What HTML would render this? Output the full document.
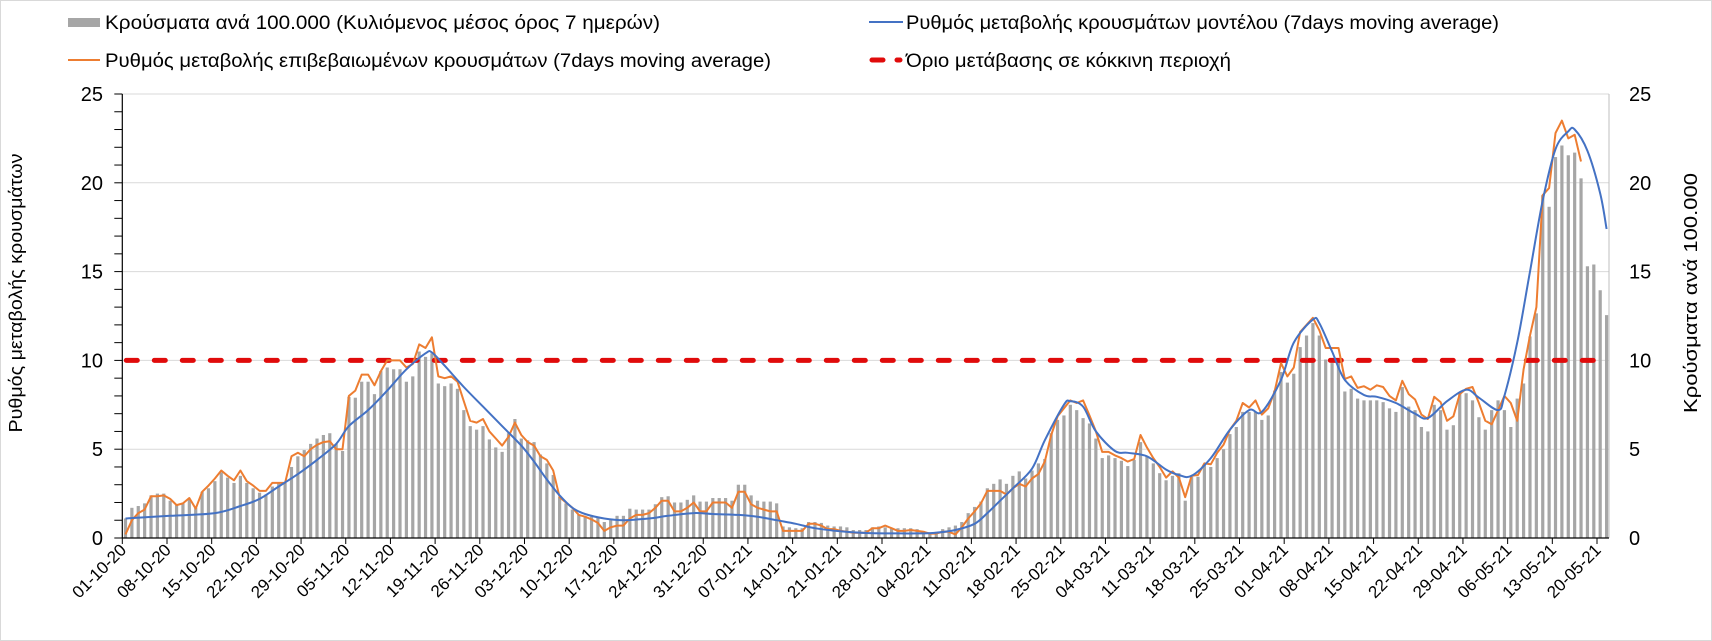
<!DOCTYPE html>
<html><head><meta charset="utf-8"><style>
html,body{margin:0;padding:0;background:#fff;}
svg{display:block;font-family:"Liberation Sans",Arial,sans-serif;}
</style></head><body>
<svg id="chart" xmlns="http://www.w3.org/2000/svg" width="1712" height="641" viewBox="0 0 1712 641">
<rect x="0.5" y="0.5" width="1711" height="640" fill="#fff" stroke="#d9d9d9"/>
<g id="grid"></g>
<g id="bars"></g>
<g id="axes"></g>
<g id="lines"></g>
<g id="labels"></g>
<text transform="translate(22,293) rotate(-90)" text-anchor="middle" font-size="18" fill="#000" textLength="279" lengthAdjust="spacingAndGlyphs">Ρυθμός μεταβολής κρουσμάτων</text>
<text transform="translate(1697,293) rotate(-90)" text-anchor="middle" font-size="18" fill="#000" textLength="240" lengthAdjust="spacingAndGlyphs">Κρούσματα ανά 100.000</text>
<g>
  <g>
    <rect x="68" y="18" width="32" height="9" fill="#a6a6a6"/>
    <text x="105" y="29" font-size="19" textLength="555" lengthAdjust="spacingAndGlyphs">Κρούσματα ανά 100.000 (Κυλιόμενος μέσος όρος 7 ημερών)</text>
  </g>
  <g>
    <line x1="68" y1="60" x2="100" y2="60" stroke="#ed7d31" stroke-width="2"/>
    <text x="105" y="67" font-size="19" textLength="666" lengthAdjust="spacingAndGlyphs">Ρυθμός μεταβολής επιβεβαιωμένων κρουσμάτων (7days moving average)</text>
  </g>
  <g>
    <line x1="869" y1="22" x2="903" y2="22" stroke="#4472c4" stroke-width="2"/>
    <text x="906" y="29" font-size="19" textLength="593" lengthAdjust="spacingAndGlyphs">Ρυθμός μεταβολής κρουσμάτων μοντέλου (7days moving average)</text>
  </g>
  <g>
    <line x1="872" y1="60" x2="900" y2="60" stroke="#e00b0b" stroke-width="5" stroke-linecap="round" stroke-dasharray="11 14"/>
    <text x="906" y="67" font-size="19" textLength="325" lengthAdjust="spacingAndGlyphs">Όριο μετάβασης σε κόκκινη περιοχή</text>
  </g>
</g>
</svg>
<script>
const bars = [1.1,1.7,1.8,1.95,2.4,2.5,2.5,2.1,1.85,1.95,2.2,1.7,2.6,2.8,3.2,3.7,3.4,3.1,3.5,3.1,2.8,2.55,2.45,2.9,3.1,3.1,4.0,4.6,4.95,5.3,5.6,5.8,5.9,5.3,4.9,7.95,7.9,8.8,8.8,8.1,9.4,9.6,9.5,9.5,8.8,9.1,10.5,10.2,10.4,8.7,8.55,8.7,8.4,7.2,6.3,6.1,6.3,5.55,5.1,4.85,5.9,6.7,5.6,5.5,5.4,4.7,4.2,
3.55,2.3,1.95,1.6,1.3,1.2,1.2,1.2,0.9,1.0,1.25,1.25,1.65,1.6,1.6,1.6,1.9,2.3,2.35,2.0,2.0,2.15,2.4,2.05,2.05,2.25,2.25,2.25,2.1,3.0,3.0,2.4,2.1,2.05,2.05,1.95,0.65,0.6,0.55,0.55,0.9,0.9,0.85,0.7,0.65,0.65,0.6,0.45,0.45,0.45,0.6,0.65,0.6,0.55,0.55,0.55,0.55,0.5,0.4,0.3,0.35,0.5,0.6,0.7,0.9,1.4,1.75,
2.05,2.8,3.05,3.3,3.05,3.5,3.75,3.35,3.8,4.2,4.45,5.9,6.65,6.9,7.5,7.2,6.75,6.45,5.6,4.5,4.65,4.5,4.35,4.05,4.4,5.4,4.6,4.2,3.65,3.25,3.5,3.65,2.1,3.45,3.45,4.1,4.0,4.5,5.0,5.85,6.25,7.1,7.1,7.1,6.65,6.9,8.3,9.35,8.75,9.25,10.75,11.4,12.1,11.4,10.05,9.85,10.0,8.25,8.4,7.85,7.75,7.75,7.75,7.65,7.3,7.1,8.5,7.4,7.2,6.25,6.0,7.5,7.2,6.1,6.35,8.15,8.15,7.75,6.8,
6.1,7.2,7.75,7.2,6.25,7.85,8.7,11.35,12.65,19.3,18.65,21.45,22.1,21.55,21.7,20.25,15.3,15.4,13.95,12.55];
const confirmedRate = [0.2,1.0,1.4,1.6,2.35,2.35,2.4,2.2,1.85,1.95,2.25,1.65,2.6,2.95,3.35,3.8,3.5,3.25,3.8,3.2,2.95,2.65,2.65,3.1,3.1,3.1,4.6,4.8,4.6,5.0,5.25,5.4,5.45,5.0,5.0,8.0,8.3,9.2,9.2,8.6,9.4,10.0,10.0,10.0,9.6,9.8,10.9,10.7,11.3,9.1,9.0,9.1,8.8,7.7,6.6,6.5,6.7,6.0,5.6,5.2,5.7,6.5,5.8,5.4,5.2,4.6,4.4,
3.8,2.3,2.0,1.7,1.3,1.2,1.05,0.85,0.4,0.6,0.7,0.7,1.1,1.3,1.3,1.4,1.7,2.1,2.1,1.5,1.5,1.7,2.0,1.5,1.5,2.0,2.0,2.0,1.7,2.6,2.6,1.9,1.7,1.6,1.5,1.5,0.4,0.4,0.4,0.4,0.8,0.8,0.7,0.5,0.5,0.4,0.35,0.3,0.3,0.3,0.55,0.55,0.7,0.55,0.4,0.4,0.45,0.4,0.35,0.25,0.25,0.35,0.35,0.2,0.6,1.1,1.5,
1.95,2.65,2.65,2.65,2.45,2.8,3.05,2.9,3.35,3.6,4.3,5.8,6.85,7.3,7.75,7.6,7.75,6.9,6.0,4.85,4.85,4.65,4.5,4.3,4.45,5.8,5.1,4.5,4.0,3.4,3.75,3.4,2.3,3.5,3.55,4.2,4.15,4.8,5.25,6.1,6.6,7.6,7.35,7.75,6.95,7.3,8.25,9.85,9.1,9.6,11.6,12.0,12.4,11.7,10.7,10.7,10.7,8.95,9.1,8.45,8.55,8.35,8.6,8.5,8.0,7.75,8.85,8.1,7.8,6.95,6.7,7.95,7.65,6.6,6.85,8.1,8.4,8.5,7.6,
6.6,6.4,7.2,8.0,7.6,6.6,9.5,11.4,13.0,19.3,19.7,22.8,23.5,22.5,22.7,21.2];
const modelDays = [0,7,14,18,21,24,27,30,33,35,38,41,44,47,48,50,53,56,59,62,64,66,68,70,72,75,78,82,85,89,92,96,99,102,105,108,112,116,120,124,127,130,133,135,137,139,142,144,147,148,150,152,155,157,160,163,165,167,170,173,176,178,181,183,186,187,189,191,194,196,199,202,204,207,210,212,215,216,218,220,222,224,226,227,229,231,232];
const modelRate = [1.1,1.25,1.4,1.8,2.2,2.9,3.6,4.4,5.3,6.3,7.2,8.3,9.5,10.4,10.45,9.7,8.5,7.4,6.3,5.2,4.3,3.3,2.4,1.7,1.35,1.1,1.0,1.1,1.25,1.4,1.35,1.3,1.2,1.0,0.8,0.55,0.38,0.28,0.26,0.26,0.3,0.45,0.8,1.4,2.1,2.8,3.9,5.5,7.5,7.7,7.4,6.0,4.9,4.8,4.6,3.85,3.55,3.5,4.5,6.1,7.2,7.1,8.9,11.0,12.3,12.1,10.5,8.9,8.05,7.95,7.6,7.0,6.75,7.7,8.35,7.9,7.2,8.0,11.0,15.0,19.0,21.9,22.9,23.0,21.8,19.4,17.4];
const thresholdValue = [10];
const thresholdSpan = [0, 230];
const yTicks = [0,5,10,15,20,25];
const dateLabels = ["01-10-20","08-10-20","15-10-20","22-10-20","29-10-20","05-11-20","12-11-20","19-11-20","26-11-20","03-12-20","10-12-20","17-12-20","24-12-20","31-12-20","07-01-21","14-01-21","21-01-21","28-01-21","04-02-21","11-02-21","18-02-21","25-02-21","04-03-21","11-03-21","18-03-21","25-03-21","01-04-21","08-04-21","15-04-21","22-04-21","29-04-21","06-05-21","13-05-21","20-05-21"];

const NS = "http://www.w3.org/2000/svg";
const X0 = 122.3, DX = 6.384, Y0 = 538, DY = 17.76, XR = 1609;
function xEdge(i){ return X0 + DX * i; }
function xC(i){ return X0 + DX * (i + 0.5); }
function yV(v){ return Y0 - DY * v; }
function mk(tag, attrs, parent){ const e = document.createElementNS(NS, tag); for (const k in attrs) e.setAttribute(k, attrs[k]); parent.appendChild(e); return e; }

const grid = document.getElementById('grid');
yTicks.forEach(v => { if (v === 0) return;
  const l = mk('line', {x1: X0, x2: XR, y1: yV(v), y2: yV(v), stroke: '#d9d9d9', 'stroke-width': 1}, grid);
  
  
});

const barsG = document.getElementById('bars');
bars.forEach((v, i) => {
  const r = mk('rect', {x: xC(i) - 1.6, y: yV(v), width: 3.2, height: Y0 - yV(v), fill: '#a6a6a6'}, barsG);
  
  
});

const axes = document.getElementById('axes');
const la = mk('line', {x1: X0, x2: X0, y1: yV(25), y2: Y0, stroke: '#000', 'stroke-width': 1.2}, axes);


const ra = mk('line', {x1: XR, x2: XR, y1: yV(25), y2: Y0, stroke: '#bfbfbf', 'stroke-width': 1}, axes);


const ba = mk('line', {x1: X0, x2: XR, y1: Y0, y2: Y0, stroke: '#000', 'stroke-width': 1.2}, axes);


for (let v = 0; v <= 25; v++) {
  const t = mk('line', {x1: X0 - 8, x2: X0, y1: yV(v), y2: yV(v), stroke: '#000', 'stroke-width': 1}, axes);
  
  
}

const labels = document.getElementById('labels');
yTicks.forEach(v => {
  const t = mk('text', {x: 103, y: yV(v) + 7, 'text-anchor': 'end', 'font-size': 20, fill: '#000'}, labels);
  t.textContent = v;
  
  
  const r = mk('text', {x: 1629, y: yV(v) + 7, 'font-size': 20, fill: '#000'}, labels);
  r.textContent = v;
  
  
});
dateLabels.forEach((d, k) => {
  const tx = xEdge(7 * k);
  const tk = mk('line', {x1: tx, x2: tx, y1: Y0, y2: Y0 + 6, stroke: '#000', 'stroke-width': 1}, axes);
  
  
  const t = mk('text', {transform: 'translate(' + (tx + 5) + ',' + (Y0 + 13) + ') rotate(-45)', 'text-anchor': 'end', 'font-size': 17, fill: '#000'}, labels);
  t.textContent = d;
  
  
});

const lines = document.getElementById('lines');
const th = mk('line', {x1: xEdge(thresholdSpan[0]) + 4, x2: xC(thresholdSpan[1]), y1: yV(thresholdValue[0]), y2: yV(thresholdValue[0]), stroke: '#e00b0b', 'stroke-width': 5, 'stroke-linecap': 'round', 'stroke-dasharray': '11 17'}, lines);



let od = '';
confirmedRate.forEach((v, i) => { od += (i ? 'L' : 'M') + xC(i).toFixed(1) + ',' + yV(v).toFixed(1); });
const op = mk('path', {d: od, fill: 'none', stroke: '#ed7d31', 'stroke-width': 2, 'stroke-linejoin': 'round'}, lines);



const pts = modelDays.map((d, i) => [xC(d), yV(modelRate[i])]);
let bd = 'M' + pts[0][0].toFixed(1) + ',' + pts[0][1].toFixed(1);
for (let i = 0; i < pts.length - 1; i++) {
  const p0 = pts[Math.max(0, i - 1)], p1 = pts[i], p2 = pts[i + 1], p3 = pts[Math.min(pts.length - 1, i + 2)];
  const c1 = [p1[0] + (p2[0] - p0[0]) / 6, p1[1] + (p2[1] - p0[1]) / 6];
  const c2 = [p2[0] - (p3[0] - p1[0]) / 6, p2[1] - (p3[1] - p1[1]) / 6];
  bd += 'C' + c1[0].toFixed(1) + ',' + c1[1].toFixed(1) + ' ' + c2[0].toFixed(1) + ',' + c2[1].toFixed(1) + ' ' + p2[0].toFixed(1) + ',' + p2[1].toFixed(1);
}
const bp = mk('path', {d: bd, fill: 'none', stroke: '#4472c4', 'stroke-width': 2}, lines);


</script>
</body></html>
